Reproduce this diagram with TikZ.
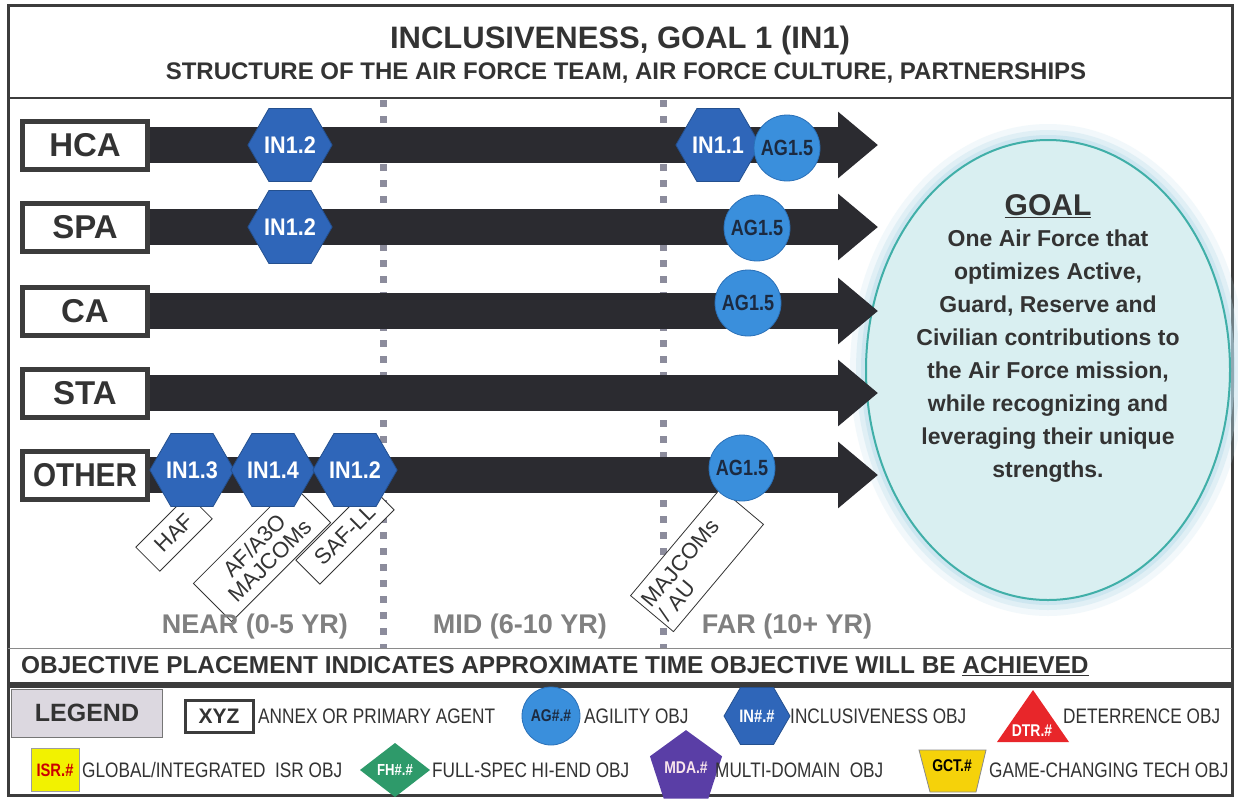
\documentclass[tikz,border=0pt]{standalone}
\usepackage{fontspec}
\setmainfont{Liberation Sans}
\newfontfamily\nar[FakeStretch=0.82]{Liberation Sans}
\newfontfamily\semi[FakeStretch=0.9]{Liberation Sans}
\usetikzlibrary{shapes.geometric,arrows.meta}
\newcommand{\fs}[1]{\fontsize{#1}{#1}\selectfont}
\definecolor{frame}{HTML}{3C3C3C}
\definecolor{txt}{HTML}{333333}
\definecolor{bar}{HTML}{2B2B30}
\definecolor{hexblue}{HTML}{2F66B9}
\definecolor{hexedge}{HTML}{24508F}
\definecolor{circblue}{HTML}{3A8FDC}
\definecolor{circedge}{HTML}{2A70B8}
\definecolor{agtext}{HTML}{1C2A40}
\definecolor{dotgray}{HTML}{8C8C9C}
\definecolor{timegray}{HTML}{808080}
\definecolor{goalfill}{HTML}{D9EFF1}
\definecolor{goaledge}{HTML}{40AFA8}
\definecolor{goalglow}{HTML}{B8DDEA}
\definecolor{legfill}{HTML}{DCD8E0}
\definecolor{dtrred}{HTML}{E8262A}
\definecolor{isryellow}{HTML}{F2F200}
\definecolor{fhgreen}{HTML}{2E9A6A}
\definecolor{mdapurple}{HTML}{5A3EA6}
\definecolor{gctyellow}{HTML}{F5D20A}
\begin{document}
\begin{tikzpicture}[x=1pt,y=-1pt,
  lane/.style={draw=frame, line width=5pt, fill=white, minimum width=125pt, minimum height=48pt, inner sep=0pt, font=\fs{33}\bfseries, text=txt},
  barline/.style={line width=36pt, draw=bar, -{Triangle[length=40pt,width=64pt]}},
  hexobj/.style={regular polygon, regular polygon sides=6, minimum size=76pt, inner sep=0pt, fill=hexblue, draw=hexedge, line width=0.8pt, text=white, font=\semi\fs{24}\bfseries},
  agobj/.style={circle, minimum size=66pt, inner sep=0pt, fill=circblue, draw=circedge, line width=0.8pt, text=agtext, font=\nar\fs{22}\bfseries},
  tag/.style={draw=txt, line width=0.8pt, fill=white, rotate=45, inner sep=1pt, font=\fs{22}, text=txt, align=center},
  dots/.style={draw=dotgray, line width=7pt, dash pattern=on 7pt off 9pt},
  timelbl/.style={font=\fs{27}\bfseries, text=timegray},
  legtxt/.style={font=\nar\fs{21}, text=txt, anchor=west, inner sep=0pt},
  goaltxt/.style={font={\fontsize{23}{33}\selectfont\bfseries}, text=txt, align=center}
]
\useasboundingbox (0,0) rectangle (1238,801);
\fill[white] (0,0) rectangle (1238,801);

% frames
\draw[frame, line width=3pt] (8,5) rectangle (1232,683);
\draw[frame, line width=2.5pt] (8,98) -- (1232,98);
\draw[frame!60, line width=1pt] (8,648) -- (1232,648);

% title
\node[font=\fs{31}\bfseries, text=txt] (title) at (620,40) {INCLUSIVENESS, GOAL 1 (IN1)};
\node[font=\fs{24}\bfseries, text=txt] (subtitle) at (626,73) {STRUCTURE OF THE AIR FORCE TEAM, AIR FORCE CULTURE, PARTNERSHIPS};

% goal ellipse with glow
\foreach \r/\o in {16/0.18, 10/0.3, 5/0.45}
  \fill[goalglow, opacity=\o] (1048,370) ellipse [x radius=182+\r, y radius=230+\r];
\node[ellipse, draw=goaledge, fill=goalfill, line width=2pt, minimum width=364pt, minimum height=460pt] (goal) at (1048,370) {};
\node[font=\fs{30}\bfseries, text=txt] (goalhead) at (1048,206) {\underline{GOAL}};
\node[goaltxt] (goalbody) at (1048,356) {One Air Force that\\ optimizes Active,\\ Guard, Reserve and\\ Civilian contributions to\\ the Air Force mission,\\ while recognizing and\\ leveraging their unique\\ strengths.};

% time dividers
\coordinate (d1top) at (383,100); \coordinate (d1bot) at (383,648);
\coordinate (d2top) at (663,100); \coordinate (d2bot) at (663,648);
\draw[dots] (d1top) -- (d1bot);
\draw[dots] (d2top) -- (d2bot);

% lanes
\node[lane] (hca) at (85,145) {HCA};
\node[lane] (spa) at (85,227) {SPA};
\node[lane] (ca) at (85,311) {CA};
\node[lane] (sta) at (85,393) {STA};
\node[lane] (other) at (85,475) {\semi OTHER};
\coordinate (hcaEnd) at (878,145);
\coordinate (spaEnd) at (878,227);
\coordinate (caEnd) at (878,311);
\coordinate (staEnd) at (878,393);
\coordinate (otherEnd) at (878,475);
\draw[barline] (hca.east) -- (hcaEnd);
\draw[barline] (spa.east) -- (spaEnd);
\draw[barline] (ca.east) -- (caEnd);
\draw[barline] (sta.east) -- (staEnd);
\draw[barline] (other.east) -- (otherEnd);

% agents (drawn below objectives)
\node[tag, minimum width=74pt, minimum height=34pt] (tHAF) at (174,533) {HAF};
\node[tag, minimum width=140pt, minimum height=54pt] (tA3O) at (262,553) {AF/A3O\\MAJCOMs};
\node[tag, minimum width=105pt, minimum height=34pt] (tSAF) at (345,535) {SAF-LL};
\node[tag, rotate=5, minimum width=140pt, minimum height=56pt, text width=132pt, align=left] (tMAJ) at (697,560) {MAJCOMs\\/ AU};

% objectives
\node[hexobj] (hcaIN12) at (290,145) {IN1.2};
\node[hexobj] (hcaIN11) at (718,145) {IN1.1};
\node[agobj] (hcaAG15) at (787,148) {AG1.5};
\node[hexobj] (spaIN12) at (290,227) {IN1.2};
\node[agobj] (spaAG15) at (757,228) {AG1.5};
\node[agobj] (caAG15) at (748,303) {AG1.5};
\node[hexobj] (oIN13) at (192,470) {IN1.3};
\node[hexobj] (oIN14) at (273,470) {IN1.4};
\node[hexobj] (oIN12) at (355,470) {IN1.2};
\node[agobj] (oAG15) at (742,468) {AG1.5};

% time labels
\node[timelbl] (near) at (255,627) {NEAR (0-5 YR)};
\node[timelbl] (mid) at (520,627) {MID (6-10 YR)};
\node[timelbl] (far) at (787,627) {FAR (10+ YR)};

% note
\node[font=\fs{24.4}\bfseries, text=txt, anchor=west, inner sep=0pt] (note) at (21,666) {OBJECTIVE PLACEMENT INDICATES APPROXIMATE TIME OBJECTIVE WILL BE \underline{ACHIEVED}};

% legend
\draw[frame, line width=3pt] (8,686) rectangle (1232,795);
\node[draw=frame!70, fill=legfill, line width=1pt, minimum width=151pt, minimum height=48pt, inner sep=0pt, font=\fs{25}\bfseries, text=txt] (legend) at (87,713) {LEGEND};
\node[draw=frame, line width=3pt, minimum width=68pt, minimum height=32pt, inner sep=0pt, font=\fs{21}\bfseries, text=txt] (xyz) at (219,716) {XYZ};
\node[legtxt] (lxyz) at (258,716) {ANNEX OR PRIMARY AGENT};
\node[agobj, minimum size=58pt, font=\nar\fs{17}\bfseries] (lag) at (551,716) {AG\#.\#};
\node[legtxt] (lagt) at (584,716) {AGILITY OBJ};
\node[hexobj, minimum size=66pt, font=\nar\fs{18}\bfseries] (lin) at (757,716) {IN\#.\#};
\node[legtxt] (lint) at (790,716) {INCLUSIVENESS OBJ};
\fill[dtrred] (997,742) -- (1033,690) -- (1069,742) -- cycle;
\node[font=\nar\fs{17}\bfseries, text=white] (ldtr) at (1032,731) {DTR.\#};
\node[legtxt] (ldtrt) at (1063,716) {DETERRENCE OBJ};

\node[draw=frame!50, fill=isryellow, minimum width=48pt, minimum height=43pt, inner sep=0pt, font=\nar\fs{18}\bfseries, text=red!80!black] (lisr) at (55,770) {ISR.\#};
\node[legtxt] (lisrt) at (82,770) {GLOBAL/INTEGRATED \ ISR OBJ};
\fill[fhgreen] (360,770) -- (395,743) -- (430,770) -- (395,797) -- cycle;
\node[font=\nar\fs{16}\bfseries, text=white] (lfh) at (395,770) {FH\#.\#};
\node[legtxt] (lfht) at (432,770) {FULL-SPEC HI-END OBJ};
\node[regular polygon, regular polygon sides=5, minimum size=60pt, inner sep=0pt, fill=mdapurple, font=\nar\fs{17}\bfseries, text=white!90!purple] (lmda) at (686,768) {MDA.\#};
\node[legtxt] (lmdat) at (715,770) {MULTI-DOMAIN \ OBJ};
\filldraw[fill=gctyellow, draw=frame!60, line width=0.8pt] (919,750) -- (986,750) -- (976,792) -- (930,792) -- cycle;
\node[font=\nar\fs{17}\bfseries, text=black] (lgct) at (952,766) {GCT.\#};
\node[legtxt] (lgctt) at (989,770) {GAME-CHANGING TECH OBJ};
\end{tikzpicture}
\end{document}
